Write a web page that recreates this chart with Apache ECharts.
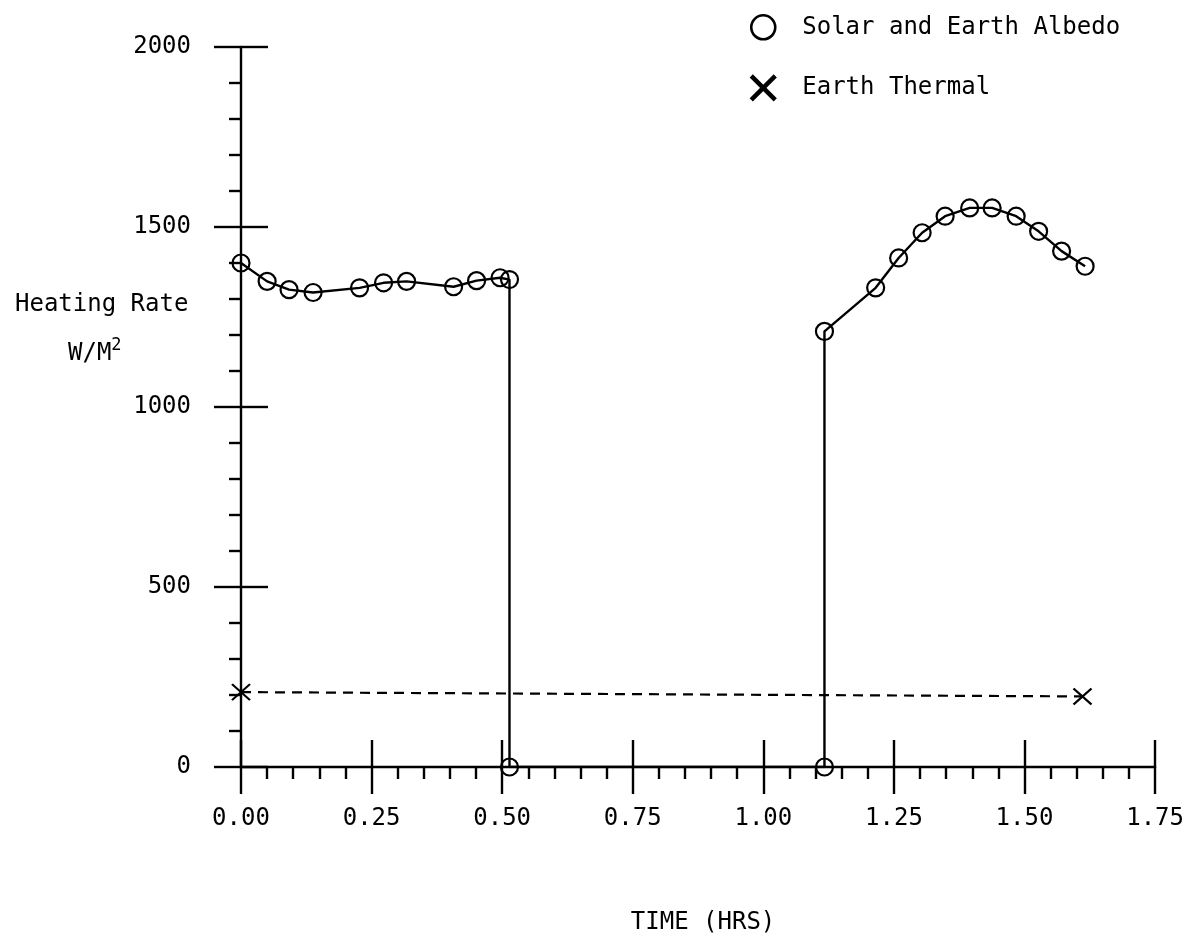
<!DOCTYPE html>
<html>
<head>
<meta charset="utf-8">
<script src="https://cdn.jsdelivr.net/npm/echarts@6/dist/echarts.min.js"></script>
<style>
html,body{margin:0;padding:0;background:#fff;}
#chart{width:1187px;height:947px;}
</style>
</head>
<body>
<div id="chart"></div>
<script>
// Solar and Earth Albedo: [time (hrs), heating rate (W/M^2)]
const albedoTime  = [0.0, 0.050, 0.092, 0.138, 0.227, 0.273, 0.317, 0.407, 0.451, 0.496, 0.514, 0.514, 1.117, 1.117, 1.215, 1.259, 1.304, 1.348, 1.395, 1.438, 1.484, 1.527, 1.571, 1.616];
const albedoValue = [1400, 1349, 1326, 1318, 1331, 1345, 1349, 1334, 1351, 1359, 1354, 0, 0, 1210, 1331, 1414, 1484, 1530, 1553, 1553, 1530, 1488, 1433, 1391];
// Earth Thermal
const thermalTime  = [0.0, 1.611];
const thermalValue = [208, 196];
// Axis ranges / tick labels
const xTicks = { min: 0, max: 1.75, interval: 0.25 };
const yTicks = { min: 0, max: 2000, interval: 500 };
const names = { albedo: 'Solar and Earth Albedo', thermal: 'Earth Thermal', x: 'TIME (HRS)', y1: 'Heating Rate', y2: 'W/M' };

const FONT = 'DejaVu Sans Mono';
const BLACK = '#000';
const crossPath = 'path://M0,0L10,10M10,0L0,10';
const LW = 2.4;

const chart = echarts.init(document.getElementById('chart'), null, { renderer: 'canvas' });

function zip(a, b) { return a.map((v, i) => [v, b[i]]); }

const baseX = {
  type: 'value', gridIndex: 0, position: 'bottom',
  min: xTicks.min, max: xTicks.max, interval: xTicks.interval,
  splitLine: { show: false }, minorSplitLine: { show: false }
};
const baseY = {
  type: 'value', gridIndex: 0, position: 'left',
  min: yTicks.min, max: yTicks.max, interval: yTicks.interval,
  splitLine: { show: false }, minorSplitLine: { show: false }
};

chart.setOption({
  animation: false,
  backgroundColor: '#fff',
  textStyle: { fontFamily: FONT, color: BLACK },
  grid: { left: 241, right: 29, top: 47, bottom: 180, containLabel: false },
  legend: {
    orient: 'vertical', left: 744, top: 9,
    itemWidth: 24, itemHeight: 24, itemGap: 33,
    textStyle: { fontFamily: FONT, fontSize: 24, color: BLACK, padding: [0, 0, 0, 22] },
    data: [
      { name: names.albedo, icon: 'circle', itemStyle: { color: 'rgba(0,0,0,0)', borderColor: BLACK, borderWidth: 2.6 } },
      { name: names.thermal, icon: crossPath, itemStyle: { color: 'rgba(0,0,0,0)', borderColor: BLACK, borderWidth: 4.5 } }
    ]
  },
  xAxis: [
    Object.assign({}, baseX, {
      name: names.x, nameLocation: 'middle', nameGap: 144,
      nameTextStyle: { fontFamily: FONT, fontSize: 24, color: BLACK, padding: [0, 0, 0, 10] },
      axisLine: { show: true, onZero: false, lineStyle: { color: BLACK, width: LW } },
      axisTick: { show: true, inside: false, length: 27, lineStyle: { color: BLACK, width: LW } },
      minorTick: { show: true, splitNumber: 5, length: 12, lineStyle: { color: BLACK, width: LW } },
      axisLabel: { margin: 40, fontFamily: FONT, fontSize: 24, color: BLACK, formatter: v => v.toFixed(2) }
    }),
    Object.assign({}, baseX, {
      axisLine: { show: false, onZero: false },
      axisTick: { show: true, inside: true, length: 27, lineStyle: { color: BLACK, width: LW } },
      minorTick: { show: false },
      axisLabel: { show: false }
    })
  ],
  yAxis: [
    Object.assign({}, baseY, {
      axisLine: { show: true, onZero: false, lineStyle: { color: BLACK, width: LW } },
      axisTick: { show: true, inside: false, length: 27, lineStyle: { color: BLACK, width: LW } },
      minorTick: { show: true, splitNumber: 5, length: 12, lineStyle: { color: BLACK, width: LW } },
      axisLabel: { margin: 50, fontFamily: FONT, fontSize: 24, color: BLACK, formatter: v => String(v) }
    }),
    Object.assign({}, baseY, {
      axisLine: { show: false, onZero: false },
      axisTick: { show: true, inside: true, length: 27, lineStyle: { color: BLACK, width: LW } },
      minorTick: { show: false },
      axisLabel: { show: false }
    })
  ],
  graphic: [
    { type: 'text', left: 15, top: 293, style: { text: names.y1, font: '24px "' + FONT + '"', fill: BLACK } },
    { type: 'text', left: 68, top: 337,
      style: { text: '{m|' + names.y2 + '}{s|2}', fill: BLACK,
        rich: { m: { fontFamily: FONT, fontSize: 24, verticalAlign: 'bottom' }, s: { fontFamily: FONT, fontSize: 17, verticalAlign: 'top', padding: [0, 0, 12, 0] } } } }
  ],
  series: [
    {
      name: names.albedo, type: 'line', xAxisIndex: 0, yAxisIndex: 0,
      data: zip(albedoTime, albedoValue),
      symbol: 'circle', symbolSize: 17, showAllSymbol: true,
      lineStyle: { color: BLACK, width: LW },
      itemStyle: { color: 'rgba(0,0,0,0)', borderColor: BLACK, borderWidth: 2.2 },
      emphasis: { disabled: true }, z: 3
    },
    {
      name: names.thermal, type: 'line', xAxisIndex: 0, yAxisIndex: 0,
      data: zip(thermalTime, thermalValue),
      symbol: crossPath, symbolSize: [18, 16], showAllSymbol: true,
      lineStyle: { color: BLACK, width: 2.2, type: [10, 7] },
      itemStyle: { color: 'rgba(0,0,0,0)', borderColor: BLACK, borderWidth: 2.2 },
      emphasis: { disabled: true }, z: 3
    }
  ]
});
</script>
</body>
</html>
